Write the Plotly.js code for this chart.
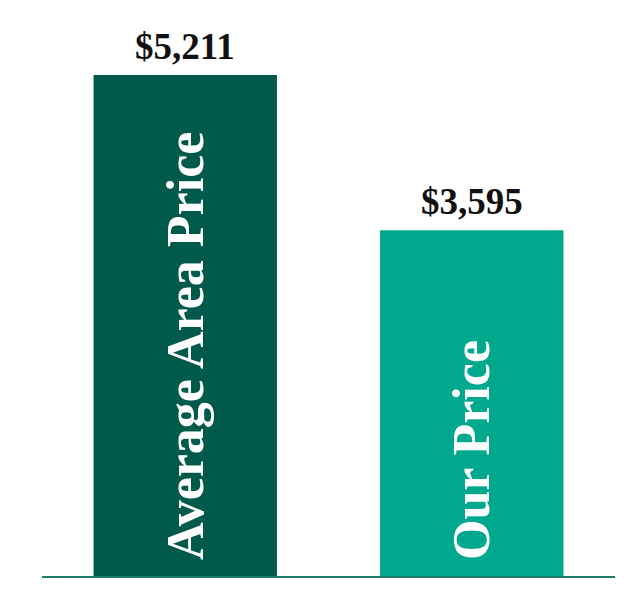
<!DOCTYPE html>
<html>
<head>
<meta charset="utf-8">
<script src="https://cdn.plot.ly/plotly-3.0.1.min.js"></script>
<style>
  html, body { margin: 0; padding: 0; background: #fff; }
  #chart { width: 640px; height: 597px; }
</style>
</head>
<body>
<div id="chart"></div>
<script>
const categories = ["Average Area Price", "Our Price"]
const prices = [5211, 3595]
const valueLabels = ["$5,211", "$3,595"]
const barColors = ["#005a4b", "#00a88e"]

const serif = "Liberation Serif, DejaVu Serif, serif"

let trace = {
    x: categories,
    y: prices,
    type: 'bar',
    width: 0.64,
    marker: {color: barColors},
    // leading nbsp keeps the label off the baseline a little
    text: categories.map(c => '\u00a0' + c),
    textposition: 'inside',
    insidetextanchor: 'start',
    textangle: -90,
    textfont: {family: serif, size: 52, color: '#ffffff', weight: 'bold'},
    hoverinfo: 'none'
}

// value labels sitting above each bar
let annotations = []
for (let i = 0; i < categories.length; i++) {
    annotations.push({
        x: categories[i],
        y: prices[i],
        text: valueLabels[i],
        showarrow: false,
        yanchor: 'bottom',
        yshift: 6,
        font: {family: serif, size: 37, color: '#111111', weight: 'bold'}
    })
}

let layout = {
    width: 640,
    height: 597,
    margin: {l: 42, r: 25, t: 0, b: 21},
    paper_bgcolor: '#ffffff',
    plot_bgcolor: '#ffffff',
    showlegend: false,
    xaxis: {
        range: [-0.5, 1.5],
        showticklabels: false,
        ticks: '',
        showgrid: false,
        zeroline: false,
        showline: true,
        linecolor: '#1f7a6c',
        linewidth: 2
    },
    yaxis: {
        range: [0, 5991],
        visible: false,
        showgrid: false,
        zeroline: false
    },
    annotations: annotations
}

Plotly.newPlot('chart', [trace], layout, {displayModeBar: false, staticPlot: true})
</script>
</body>
</html>
